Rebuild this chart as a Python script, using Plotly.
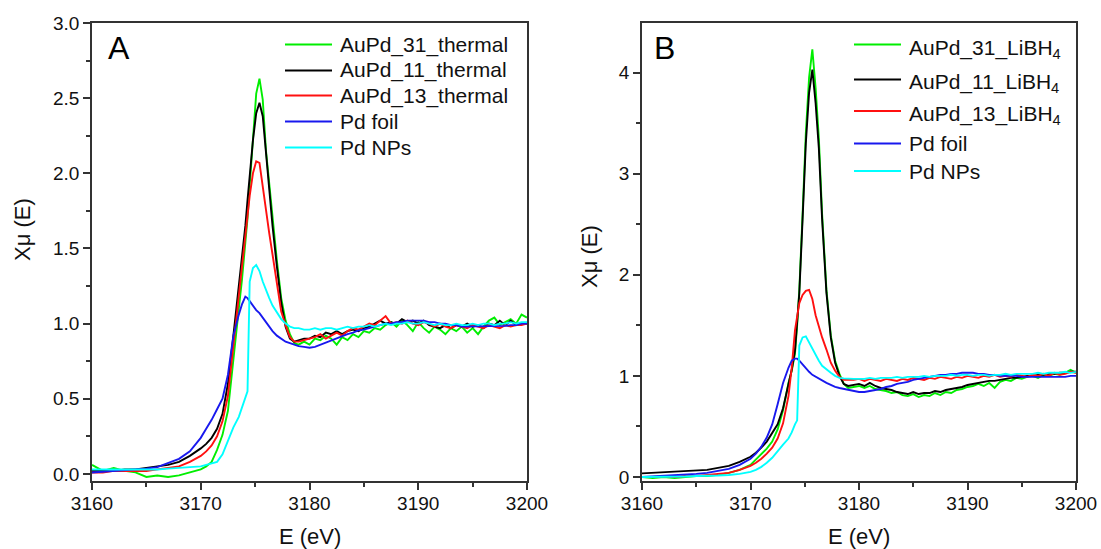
import plotly.graph_objects as go

# ---------------- data ----------------
E = [3160, 3161, 3162, 3163, 3164, 3165, 3166, 3167, 3168, 3169,
     3170, 3170.5, 3171, 3171.5, 3172, 3172.5, 3173, 3173.5, 3173.8, 3174.1,
     3174.3, 3174.5, 3174.8, 3175.1, 3175.4, 3175.7, 3176.0, 3176.3, 3176.6, 3177.0,
     3177.4, 3177.8, 3178.2, 3178.6, 3179.0,
     3179.5, 3180, 3180.5, 3181, 3181.5, 3182, 3182.5, 3183, 3183.5, 3184,
     3184.5, 3185, 3185.5, 3186, 3186.5, 3187, 3187.5, 3188, 3188.5, 3189,
     3189.5, 3190, 3190.5, 3191, 3191.5, 3192, 3192.5, 3193, 3193.5, 3194,
     3194.5, 3195, 3195.5, 3196, 3196.5, 3197, 3197.5, 3198, 3198.5, 3199,
     3199.5, 3200]

# Panel A (thermal)
green_A = [0.06, 0.02, 0.04, 0.02, 0.01, -0.02, -0.01, -0.02, -0.01, 0.01,
           0.03, 0.05, 0.08, 0.16, 0.26, 0.42, 0.74, 1.10, 1.30, 1.52,
           1.70, 1.92, 2.25, 2.53, 2.63, 2.49, 2.15, 1.92, 1.70, 1.42,
           1.17, 1.02, 0.93, 0.87, 0.86,
           0.88, 0.86, 0.90, 0.89, 0.92, 0.90, 0.86, 0.91, 0.89, 0.93,
           0.91, 0.95, 0.94, 0.97, 0.96, 0.99, 1.01, 0.98, 1.02, 0.99,
           0.95, 1.01, 0.97, 0.94, 0.98, 0.96, 0.93, 0.97, 0.95, 0.98,
           0.94, 0.97, 0.93, 0.98, 1.02, 1.04, 0.99, 1.01, 1.03, 1.00,
           1.06, 1.04]
black_A = [0.02, 0.02, 0.02, 0.03, 0.03, 0.04, 0.05, 0.06, 0.08, 0.12,
           0.17, 0.20, 0.24, 0.30, 0.40, 0.60, 0.92, 1.25, 1.42, 1.65,
           1.82, 1.98, 2.22, 2.40, 2.47, 2.38, 2.12, 1.88, 1.65, 1.38,
           1.14, 0.98, 0.90, 0.88, 0.89,
           0.90, 0.90, 0.92, 0.91, 0.94, 0.93, 0.95, 0.93, 0.95, 0.96,
           0.95, 0.97, 0.98, 1.00, 1.02, 1.00, 1.01, 1.00, 1.03, 1.01,
           1.02, 1.00, 1.02, 0.99, 0.98, 0.97, 0.99, 0.97, 0.99, 0.98,
           1.00, 0.98, 0.99, 0.97, 1.00, 0.99, 1.02, 0.99, 1.02, 0.99,
           1.00, 1.00]
red_A = [0.01, 0.01, 0.02, 0.02, 0.02, 0.02, 0.03, 0.04, 0.05, 0.08,
         0.12, 0.15, 0.19, 0.25, 0.35, 0.52, 0.85, 1.15, 1.36, 1.58,
         1.72, 1.85, 2.00, 2.08, 2.07, 1.90, 1.75, 1.60, 1.46, 1.26,
         1.08, 0.99, 0.91, 0.88, 0.88,
         0.89, 0.90, 0.91, 0.93, 0.90, 0.92, 0.94, 0.92, 0.95, 0.97,
         0.96, 0.98, 1.00, 0.99, 1.02, 1.05, 1.00, 1.01, 1.00, 1.02,
         1.00, 0.99, 1.01, 1.00, 0.98, 1.00, 0.98, 0.97, 0.99, 0.98,
         0.97, 0.99, 0.98, 0.97, 0.99, 0.98, 0.97, 0.99, 0.98, 0.99,
         0.99, 1.00]
blue_A = [0.01, 0.015, 0.02, 0.025, 0.03, 0.035, 0.045, 0.07, 0.10, 0.15,
          0.24, 0.30, 0.36, 0.43, 0.50, 0.66, 0.92, 1.06, 1.13, 1.18,
          1.17, 1.15, 1.12, 1.09, 1.07, 1.04, 1.01, 0.98, 0.95, 0.92,
          0.90, 0.88, 0.87, 0.86, 0.85,
          0.845, 0.84, 0.845, 0.86, 0.875, 0.89, 0.90, 0.92, 0.93, 0.94,
          0.955, 0.96, 0.97, 0.98, 0.99, 1.00, 1.00, 1.01, 1.01, 1.02,
          1.02, 1.02, 1.02, 1.01, 1.01, 1.00, 1.00, 0.99, 0.99, 0.98,
          0.98, 0.98, 0.98, 0.98, 0.98, 0.98, 0.98, 0.985, 0.99, 0.99,
          1.00, 1.00]
cyan_A = [0.03, 0.03, 0.03, 0.03, 0.03, 0.03, 0.03, 0.035, 0.04, 0.04,
          0.05, 0.06, 0.07, 0.08, 0.13, 0.22, 0.31, 0.38, 0.44, 0.51,
          0.55, 1.28, 1.37, 1.39, 1.35, 1.28, 1.22, 1.17, 1.12, 1.07,
          1.03, 1.00, 0.98, 0.97, 0.97,
          0.96, 0.96, 0.97, 0.96, 0.97, 0.97, 0.96, 0.97, 0.98, 0.97,
          0.98, 0.98, 0.99, 0.98, 0.99, 1.00, 0.99, 1.00, 1.00, 1.01,
          1.00, 1.00, 1.01, 1.00, 0.99, 1.00, 0.99, 0.99, 1.00, 0.99,
          0.99, 1.00, 0.99, 1.00, 1.00, 0.99, 1.00, 1.00, 1.01, 1.00,
          1.01, 1.01]

# Panel B (LiBH4)
green_B = [0.00, -0.01, 0.00, -0.01, 0.00, 0.01, 0.01, 0.02, 0.04, 0.07,
           0.12, 0.17, 0.22, 0.28, 0.35, 0.47, 0.66, 0.93, 1.05, 1.22,
           1.50, 1.85, 2.60, 3.40, 3.95, 4.23, 3.85, 3.35, 2.60, 1.85,
           1.40, 1.15, 1.02, 0.92, 0.88,
           0.89, 0.90, 0.88, 0.90, 0.87, 0.86, 0.85, 0.83, 0.84, 0.81,
           0.80, 0.82, 0.79, 0.81, 0.80, 0.83, 0.81, 0.84, 0.83, 0.86,
           0.87, 0.89, 0.90, 0.92, 0.90, 0.93, 0.88, 0.94, 0.96, 0.95,
           0.98, 0.97, 0.99, 1.00, 0.98, 1.01, 1.00, 1.02, 1.01, 1.03,
           1.06, 1.03]
black_B = [0.035, 0.04, 0.045, 0.05, 0.055, 0.06, 0.07, 0.09, 0.11, 0.15,
           0.20, 0.24, 0.29, 0.35, 0.43, 0.52, 0.68, 0.92, 1.06, 1.25,
           1.50, 1.82, 2.55, 3.30, 3.80, 4.03, 3.70, 3.25, 2.55, 1.82,
           1.38, 1.13, 1.00, 0.92, 0.90,
           0.91, 0.92, 0.90, 0.93, 0.90, 0.88, 0.87, 0.86, 0.84, 0.83,
           0.82, 0.84, 0.82, 0.83, 0.83, 0.85, 0.84, 0.86, 0.87, 0.88,
           0.89, 0.91, 0.92, 0.93, 0.94, 0.95, 0.95, 0.96, 0.97, 0.98,
           0.98, 0.99, 1.00, 1.00, 1.01, 1.01, 1.02, 1.02, 1.03, 1.03,
           1.04, 1.04]
red_B = [0.00, 0.00, 0.01, 0.00, 0.01, 0.01, 0.02, 0.03, 0.04, 0.07,
         0.11, 0.14, 0.18, 0.23, 0.29, 0.38, 0.53, 0.80, 1.08, 1.45,
         1.60, 1.72, 1.80, 1.84, 1.85, 1.76, 1.60, 1.48, 1.38, 1.26,
         1.13, 1.05, 0.99, 0.96, 0.96,
         0.96, 0.97, 0.95, 0.97, 0.96, 0.95, 0.97, 0.96, 0.95, 0.97,
         0.96, 0.98, 0.97, 0.96, 0.98, 0.97, 0.99, 0.98, 0.97, 0.99,
         0.98, 1.00, 0.99, 0.98, 1.00, 0.99, 1.01, 0.99, 1.00, 0.99,
         1.01, 1.00, 0.99, 1.01, 1.00, 1.02, 1.00, 1.03, 1.01, 1.02,
         1.04, 1.03]
blue_B = [0.00, 0.005, 0.01, 0.015, 0.02, 0.03, 0.04, 0.06, 0.08, 0.12,
          0.18, 0.23, 0.30, 0.39, 0.52, 0.72, 0.93, 1.08, 1.15, 1.17,
          1.17, 1.15, 1.11, 1.07, 1.04, 1.01, 0.99, 0.97, 0.95, 0.93,
          0.91, 0.89, 0.88, 0.87, 0.86,
          0.85, 0.84, 0.84, 0.85, 0.86, 0.87, 0.89, 0.90, 0.92, 0.93,
          0.94, 0.96, 0.97, 0.98, 0.99, 1.00, 1.01, 1.01, 1.02, 1.02,
          1.03, 1.03, 1.03, 1.02, 1.02, 1.01, 1.01, 1.00, 1.00, 1.00,
          1.00, 0.99, 0.99, 0.99, 0.99, 0.99, 0.99, 0.99, 0.99, 0.99,
          1.00, 1.00]
cyan_B = [0.00, 0.00, 0.00, 0.00, 0.005, 0.01, 0.01, 0.015, 0.02, 0.03,
          0.05, 0.07, 0.10, 0.14, 0.19, 0.26, 0.32, 0.38, 0.44, 0.52,
          0.56, 1.30, 1.38, 1.39, 1.33, 1.26, 1.20, 1.15, 1.10, 1.06,
          1.03, 1.00, 0.98, 0.975, 0.97,
          0.97, 0.97, 0.97, 0.98, 0.97, 0.98, 0.98, 0.98, 0.99, 0.98,
          0.99, 0.99, 0.99, 1.00, 0.99, 1.00, 1.00, 1.00, 1.01, 1.00,
          1.01, 1.01, 1.00, 1.01, 1.01, 1.00, 1.01, 1.01, 1.02, 1.01,
          1.02, 1.02, 1.02, 1.02, 1.03, 1.02, 1.03, 1.03, 1.03, 1.04,
          1.03, 1.04]

names_A = ["AuPd_31_thermal", "AuPd_11_thermal", "AuPd_13_thermal", "Pd foil", "Pd NPs"]
names_B = ["AuPd_31_LiBH<sub>4</sub>", "AuPd_11_LiBH<sub>4</sub>", "AuPd_13_LiBH<sub>4</sub>",
           "Pd foil", "Pd NPs"]
colors = ["#00ee00", "#000000", "#ff1010", "#1818ee", "#00ffff"]

x_ticks = [3160, 3170, 3180, 3190, 3200]
yA_ticks = [0.0, 0.5, 1.0, 1.5, 2.0, 2.5, 3.0]
yB_ticks = [0, 1, 2, 3, 4]

# ---------------- figure ----------------
W, H = 1101, 549
FONT = "Liberation Sans, Arial, sans-serif"

fig = go.Figure()
series_A = [green_A, black_A, red_A, blue_A, cyan_A]
series_B = [green_B, black_B, red_B, blue_B, cyan_B]
for ys, nm, c in zip(series_A, names_A, colors):
    fig.add_trace(go.Scatter(x=E, y=ys, name=nm, mode="lines",
                             line=dict(color=c, width=1.9),
                             xaxis="x", yaxis="y", showlegend=False))
for ys, nm, c in zip(series_B, names_B, colors):
    fig.add_trace(go.Scatter(x=E, y=ys, name=nm, mode="lines",
                             line=dict(color=c, width=1.9),
                             xaxis="x2", yaxis="y2", showlegend=False))

def px(xp):
    return xp / W

def py(yp):
    return 1 - yp / H

axis_common = dict(showline=True, mirror=True, linecolor="#333333", linewidth=1.5,
                   ticks="outside", ticklen=7, tickwidth=1.5, tickcolor="#333333",
                   showgrid=False, zeroline=False, automargin=False,
                   tickfont=dict(family=FONT, size=19, color="#111111"))
minor_common = dict(ticklen=4, ticks="outside", tickwidth=1.5, tickcolor="#333333", showgrid=False)

fig.update_layout(
    template="none",
    width=W, height=H,
    margin=dict(l=0, r=0, t=0, b=0, pad=0, autoexpand=False),
    paper_bgcolor="white", plot_bgcolor="white",
    showlegend=False,
    xaxis=dict(domain=[px(92), px(527)], range=[3160, 3200], tickvals=x_ticks,
               minor=dict(dtick=5, **minor_common), ticklabelstandoff=-3,
               anchor="y", **axis_common),
    yaxis=dict(domain=[py(481), py(23)], range=[-0.047, 3.0], tickvals=yA_ticks,
               tickformat=".1f",
               minor=dict(dtick=0.25, **minor_common),
               anchor="x", **axis_common),
    xaxis2=dict(domain=[px(642), px(1076)], range=[3160, 3200], tickvals=x_ticks,
                minor=dict(dtick=5, **minor_common), ticklabelstandoff=-3,
                anchor="y2", **axis_common),
    yaxis2=dict(domain=[py(481), py(23)], range=[-0.04, 4.49], tickvals=yB_ticks,
                minor=dict(dtick=0.5, **minor_common),
                anchor="x2", **axis_common),
)

annotations = []
shapes = []

# axis titles
for xc in (309.5, 859):
    annotations.append(dict(x=px(xc), y=py(536), xref="paper", yref="paper",
                            text="E (eV)", showarrow=False, xanchor="center", yanchor="middle",
                            font=dict(family=FONT, size=22, color="#111111")))
for xc, yc in ((22, 230), (590, 257)):
    annotations.append(dict(x=px(xc), y=py(yc), xref="paper", yref="paper",
                            text="Xμ (E)", showarrow=False, textangle=-90,
                            xanchor="center", yanchor="middle",
                            font=dict(family=FONT, size=22, color="#111111")))

# panel letters
for letter, xc in (("A", 119), ("B", 664)):
    annotations.append(dict(x=px(xc), y=py(48), xref="paper", yref="paper",
                            text=letter, showarrow=False, xanchor="center", yanchor="middle",
                            font=dict(family=FONT, size=32, color="#000000")))

# legends
rows_A = [44.5, 70.4, 95.6, 121.5, 147.4]
rows_B = [44.5, 79.5, 111, 143.6, 171]
for nm, c, yr in zip(names_A, colors, rows_A):
    shapes.append(dict(type="line", xref="paper", yref="paper",
                       x0=px(285), x1=px(332), y0=py(yr), y1=py(yr),
                       line=dict(color=c, width=2)))
    annotations.append(dict(x=px(338), y=py(yr), xref="paper", yref="paper",
                            text=nm, showarrow=False, xanchor="left", yanchor="middle",
                            font=dict(family=FONT, size=21, color="#111111")))
for nm, c, yr in zip(names_B, colors, rows_B):
    shapes.append(dict(type="line", xref="paper", yref="paper",
                       x0=px(854), x1=px(901), y0=py(yr), y1=py(yr),
                       line=dict(color=c, width=2)))
    shift = 4 if "<sub>" in nm else 0
    annotations.append(dict(x=px(907), y=py(yr + shift), xref="paper", yref="paper",
                            text=nm, showarrow=False, xanchor="left", yanchor="middle",
                            font=dict(family=FONT, size=21, color="#111111")))

fig.update_layout(annotations=annotations, shapes=shapes)
fig.write_html("out.html", config={"displayModeBar": False},
               post_script="document.body.style.margin='0';document.body.style.overflow='hidden';")
